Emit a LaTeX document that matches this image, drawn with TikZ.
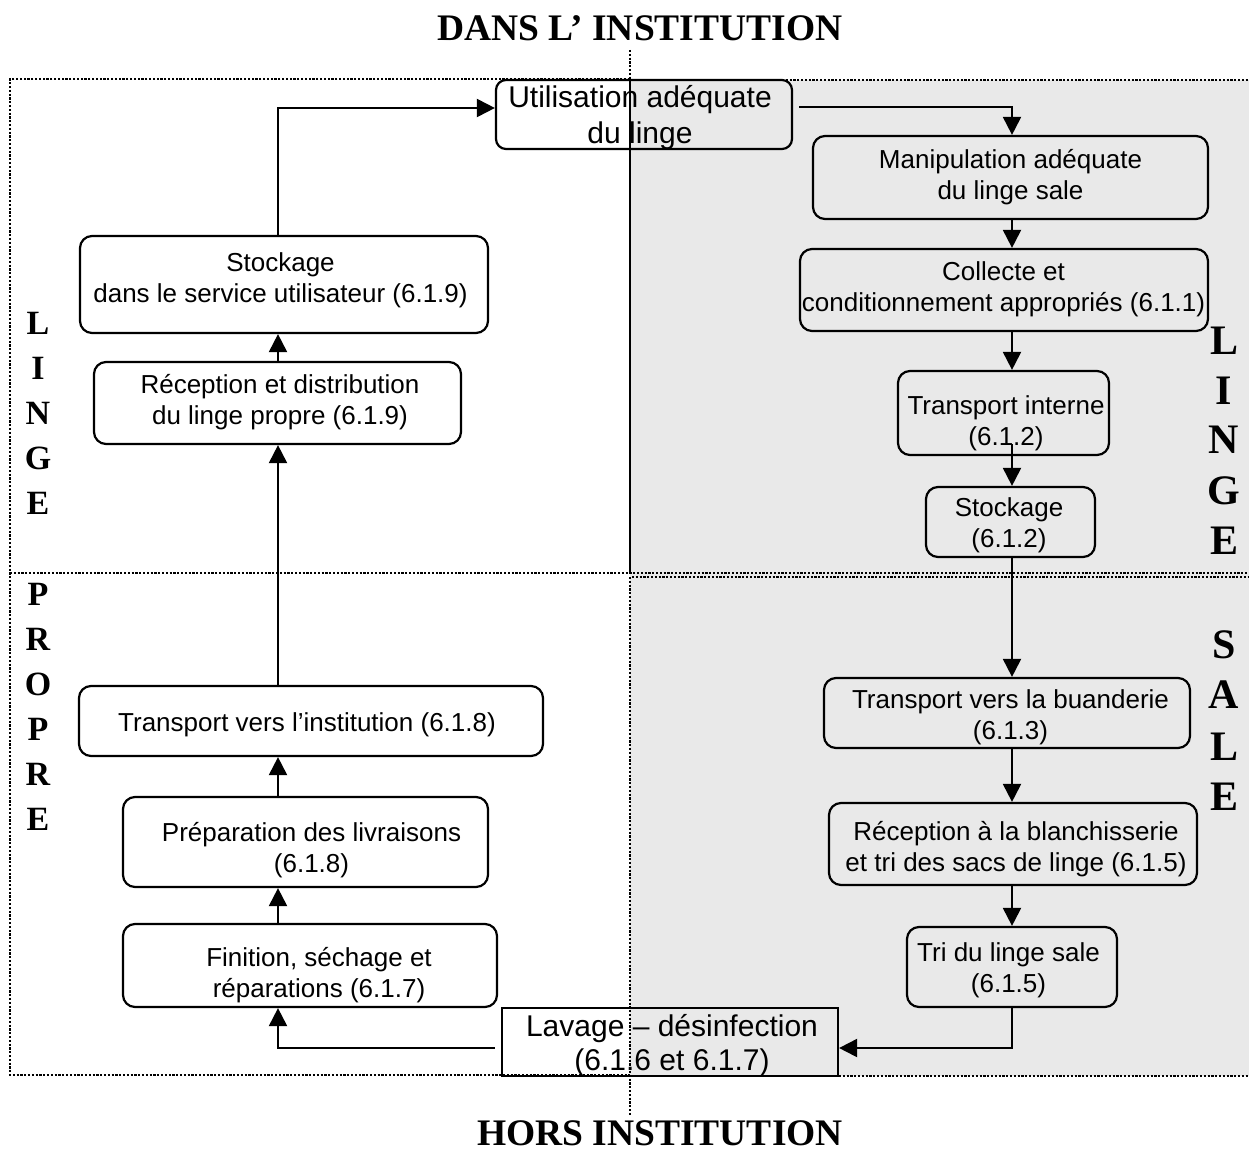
\documentclass[tikz,border=0pt]{standalone}
\usepackage{fontspec}
\setmainfont{Liberation Serif}
\newfontfamily\arial{Liberation Sans}
\usetikzlibrary{arrows.meta}
\definecolor{zone}{RGB}{233,233,233}
\begin{document}
\begin{tikzpicture}[x=1pt,y=-1pt,
  box/.style={draw, line width=2.2pt, rounded corners=12pt, inner sep=0pt},
  sqbox/.style={draw, line width=2.2pt, inner sep=0pt},
  txt/.style={font=\arial\fontsize{26}{31}\selectfont, align=center, inner sep=0pt},
  bigtxt/.style={font=\arial\fontsize{30}{36}\selectfont, align=center, inner sep=0pt},
  conn/.style={line width=2pt, -{Triangle[width=18pt,length=18pt]}},
  frameline/.style={line width=2.4pt, dash pattern=on 2.2pt off 1.6pt},
  titletxt/.style={font=\bfseries\fontsize{37.5}{44}\selectfont, inner sep=0pt},
  lettl/.style={font=\bfseries\fontsize{34}{40}\selectfont, inner sep=0pt},
  lettr/.style={font=\bfseries\fontsize{42}{50}\selectfont, inner sep=0pt}]
\useasboundingbox (0,0) rectangle (1249,1153);

% zones and frame
\fill[zone] (630,80) rectangle (1249,1076);
\draw[frameline] (630,79) -- (10,79) -- (10,1075) -- (630,1075);
\draw[frameline] (630,80) -- (1249,80);
\draw[frameline] (10,573) -- (1249,573);
\draw[frameline] (632,577) -- (1249,577);
\draw[frameline] (630,1076) -- (1249,1076);

% titles
\node[titletxt] (dans) at (640,28) {DANS L’ INSTITUTION};
\node[titletxt] (hors) at (660,1133) {HORS INSTITUTION};

% vertical letters
\foreach \l/\y [count=\i] in {L/323,I/368,N/413,G/458,E/503,P/594,R/639,O/684,P/729,R/774,E/819}
  \node[lettl] (lp\i) at (38,\y) {\l};
\foreach \l/\y [count=\i] in {L/341,I/391,N/440,G/491,E/541,S/645,A/695,L/747,E/797}
  \node[lettr] (ls\i) at (1224,\y) {\l};

% boxes
\node[box, rounded corners=10pt, minimum width=296pt, minimum height=69pt] (util) at (644,114.5) {};
\node[box, minimum width=395pt, minimum height=83pt] (manip) at (1010.5,177.5) {};
\node[box, minimum width=408pt, minimum height=82pt] (coll) at (1004,290) {};
\node[box, minimum width=211pt, minimum height=84pt] (ti) at (1003.5,413) {};
\node[box, minimum width=169pt, minimum height=70pt] (stk) at (1010.5,522) {};
\node[box, minimum width=366pt, minimum height=70pt] (buand) at (1007,713) {};
\node[box, minimum width=368pt, minimum height=82pt] (recb) at (1013,844) {};
\node[box, minimum width=210pt, minimum height=80pt] (tri) at (1012,967) {};
\node[sqbox, minimum width=336pt, minimum height=68pt] (lav) at (670,1042) {};
\node[box, minimum width=374pt, minimum height=83pt] (fin) at (310,965.5) {};
\node[box, minimum width=365pt, minimum height=90pt] (prep) at (305.5,842) {};
\node[box, minimum width=464pt, minimum height=70pt] (tvi) at (311,721) {};
\node[box, minimum width=367pt, minimum height=82pt] (recp) at (277.5,403) {};
\node[box, minimum width=408pt, minimum height=97pt] (stksvc) at (284,284.5) {};

% texts
\node[bigtxt] (util-t) at (640,117.5) {Utilisation adéquate\\du linge};
\node[txt] (manip-t) at (1010.5,177.5) {Manipulation adéquate\\du linge sale};
\node[txt] (coll-t) at (1003.5,289.5) {Collecte et\\conditionnement appropriés (6.1.1)};
\node[txt] (ti-t) at (1006,423.5) {Transport interne\\(6.1.2)};
\node[txt] (stk-t) at (1009,525.5) {Stockage\\(6.1.2)};
\node[txt] (buand-t) at (1010.5,717.5) {Transport vers la buanderie\\(6.1.3)};
\node[txt] (recb-t) at (1016,849.5) {Réception à la blanchisserie\\et tri des sacs de linge (6.1.5)};
\node[txt] (tri-t) at (1008.5,970.5) {Tri du linge sale\\(6.1.5)};
\node[font=\arial\fontsize{30}{34}\selectfont, align=center, inner sep=0pt] (lav-t) at (672,1045.5) {Lavage – désinfection\\(6.1.6 et 6.1.7)};
\node[txt] (fin-t) at (319,975.5) {Finition, séchage et\\réparations (6.1.7)};
\node[txt] (prep-t) at (311.5,850.5) {Préparation des livraisons\\(6.1.8)};
\node[txt] (tvi-t) at (307,725) {Transport vers l’institution (6.1.8)};
\node[txt] (recp-t) at (280,402.5) {Réception et distribution\\du linge propre (6.1.9)};
\node[txt] (stksvc-t) at (280.5,280.5) {Stockage\\dans le service utilisateur (6.1.9)};

% connectors
\coordinate (lx) at (278,0);
\coordinate (rx) at (1012,0);
\coordinate (util-in) at ([yshift=6.5pt]util.west);
\coordinate (util-out) at ([xshift=6pt,yshift=7.5pt]util.east);
\coordinate (ti-s) at ([yshift=12pt]ti.south);
\coordinate (lav-in) at ([yshift=-6pt]lav.east);
\coordinate (lav-out) at ([xshift=-6pt,yshift=-6pt]lav.west);

\draw[conn] (stksvc.north -| lx) |- (util-in);
\draw[conn] (util-out) -| (manip.north -| rx);
\draw[conn] (manip.south -| rx) -- (coll.north -| rx);
\draw[conn] (coll.south -| rx) -- (ti.north -| rx);
\draw[conn] (ti-s -| rx) -- (stk.north -| rx);
\draw[conn] (stk.south -| rx) -- (buand.north -| rx);
\draw[conn] (buand.south -| rx) -- (recb.north -| rx);
\draw[conn] (recb.south -| rx) -- (tri.north -| rx);
\draw[conn] (tri.south -| rx) |- (lav-in);
\draw[conn] (lav-out) -| (fin.south -| lx);
\draw[conn] (fin.north -| lx) -- (prep.south -| lx);
\draw[conn] (prep.north -| lx) -- (tvi.south -| lx);
\draw[conn] (tvi.north -| lx) -- (recp.south -| lx);
\draw[conn] (recp.north -| lx) -- (stksvc.south -| lx);

% central divider
\draw[line width=2.2pt] (630,80) -- (630,572);
\draw[frameline] (630,50) -- (630,79);
\draw[frameline] (630,577) -- (630,1115);
\end{tikzpicture}
\end{document}
